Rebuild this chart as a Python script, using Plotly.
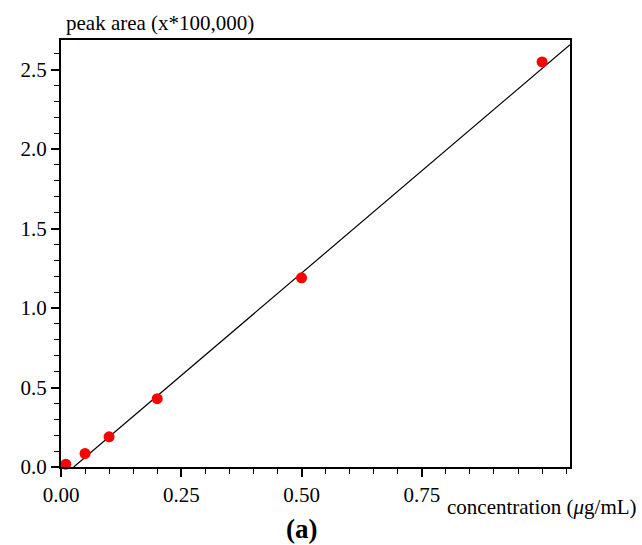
import plotly.graph_objects as go

conc = [0.01, 0.05, 0.10, 0.20, 0.50, 1.00]
area = [0.018, 0.085, 0.19, 0.43, 1.19, 2.548]
fit_slope = 2.575
fit_intercept = -0.068
x_tick_vals = [0.0, 0.25, 0.5, 0.75]
x_tick_text = ["0.00", "0.25", "0.50", "0.75"]
y_tick_vals = [0.0, 0.5, 1.0, 1.5, 2.0, 2.5]
y_tick_text = ["0.0", "0.5", "1.0", "1.5", "2.0", "2.5"]

XMAX = 1.058
YMAX = 2.686

x0 = -fit_intercept / fit_slope
line_x = [x0, XMAX]
line_y = [fit_slope * x + fit_intercept for x in line_x]

FONT = "Liberation Serif"
FS = 21

fig = go.Figure()
fig.add_trace(go.Scatter(x=line_x, y=line_y, mode="lines",
                         line=dict(color="black", width=1.2), showlegend=False))
fig.add_trace(go.Scatter(x=conc, y=area, mode="markers",
                         marker=dict(color="#ff0000", size=11, line=dict(width=0)),
                         showlegend=False, cliponaxis=False))

fig.update_layout(
    width=642, height=545,
    margin=dict(l=61, r=72, t=40, b=78),
    paper_bgcolor="white", plot_bgcolor="white",
    font=dict(family=FONT, size=FS, color="black"),
    xaxis=dict(range=[0, XMAX], tickvals=x_tick_vals, ticktext=x_tick_text,
               ticks="outside", ticklen=8, tickwidth=1.5, tickcolor="black",
               showline=True, linecolor="black", linewidth=2, mirror=True,
               showgrid=False, zeroline=False,
               minor=dict(dtick=0.05, ticks="outside", ticklen=5, tickwidth=1.2, tickcolor="black"),
               tickfont=dict(family=FONT, size=FS)),
    yaxis=dict(range=[0, YMAX], tickvals=y_tick_vals, ticktext=y_tick_text,
               ticks="outside", ticklen=8, tickwidth=1.5, tickcolor="black",
               showline=True, linecolor="black", linewidth=2, mirror=True,
               showgrid=False, zeroline=False,
               minor=dict(dtick=0.1, ticks="outside", ticklen=5, tickwidth=1.2, tickcolor="black"),
               tickfont=dict(family=FONT, size=FS)),
    annotations=[
        dict(text="peak area (x*100,000)", xref="paper", yref="paper",
             x=0.0, y=1.0, xanchor="left", yanchor="bottom", yshift=3, xshift=3,
             showarrow=False, font=dict(family=FONT, size=FS)),
        dict(text="concentration (<i>μ</i>g/mL)", xref="paper", yref="paper",
             x=1.0, y=0, xanchor="right", yanchor="middle", xshift=69, yshift=-40,
             showarrow=False, font=dict(family=FONT, size=FS)),
        dict(text="<b>(a)</b>", xref="paper", yref="paper",
             x=0.0, y=0, xanchor="center", yanchor="middle", xshift=240, yshift=-62,
             showarrow=False, font=dict(family=FONT, size=27)),
    ],
)

fig.write_html("out.html")
